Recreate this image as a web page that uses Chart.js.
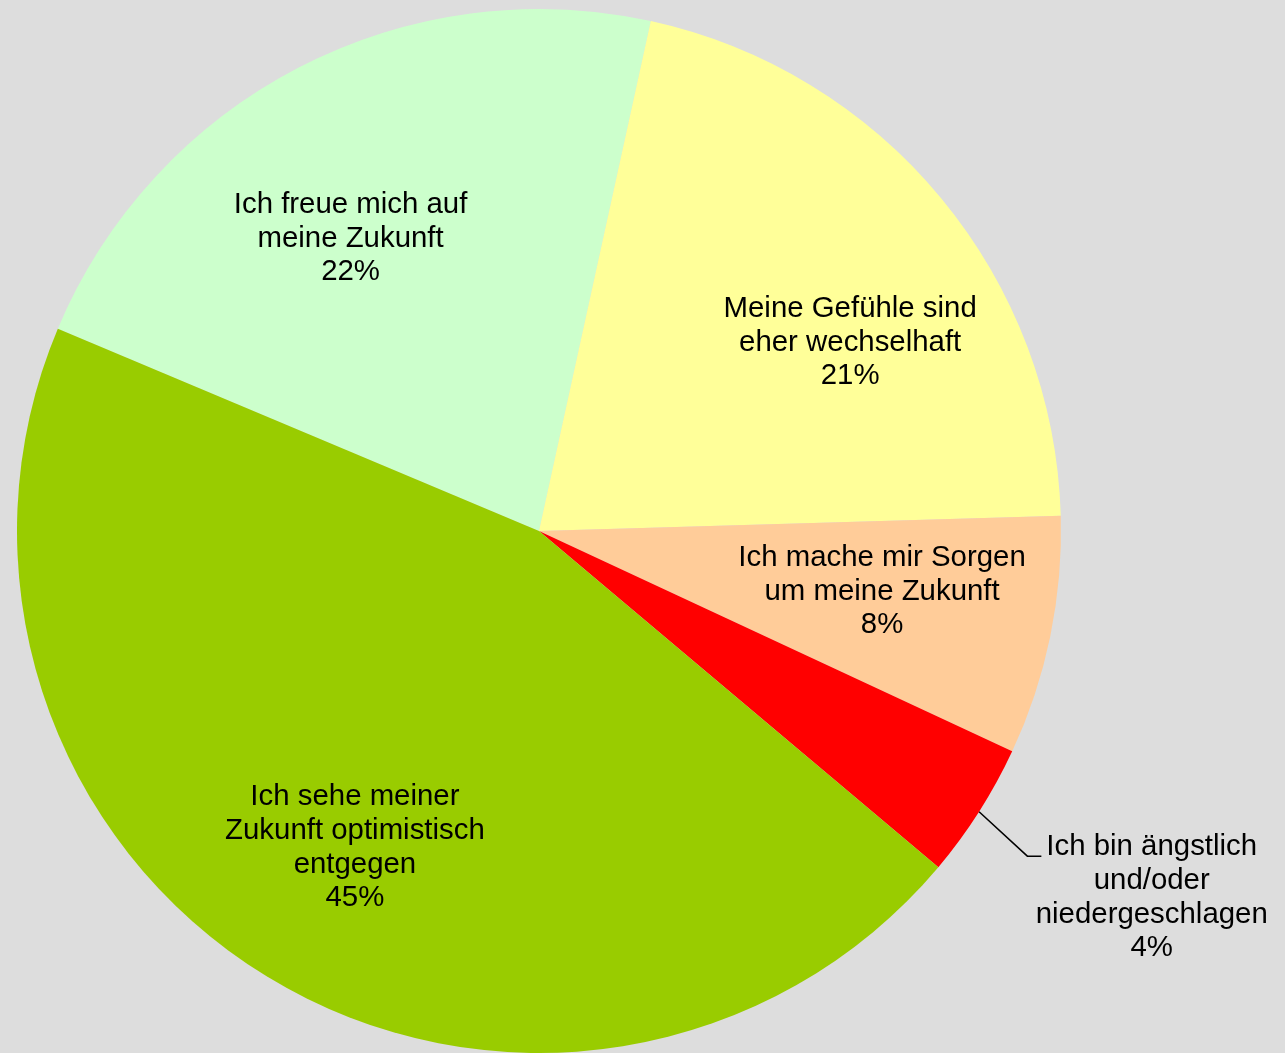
<!DOCTYPE html>
<html>
<head>
<meta charset="utf-8">
<script src="https://cdn.jsdelivr.net/npm/chart.js@4"></script>
<style>
  html, body { margin: 0; padding: 0; background: #dddddd; }
  #wrap { width: 1285px; height: 1053px; position: relative; }
</style>
</head>
<body>
<div id="wrap"><canvas id="pie"></canvas></div>
<script>
// slices, in drawing order starting at the upper left
const categories = [
  ['Ich freue mich auf', 'meine Zukunft'],
  ['Meine Gefühle sind', 'eher wechselhaft'],
  ['Ich mache mir Sorgen', 'um meine Zukunft'],
  ['Ich bin ängstlich', 'und/oder', 'niedergeschlagen'],
  ['Ich sehe meiner', 'Zukunft optimistisch', 'entgegen']
];
const sliceValues = [22.1, 21.1, 7.4, 4.2, 45.2];
const shownPercent = ['22%', '21%', '8%', '4%', '45%'];
const sliceColors = ['#ccffcc', '#ffff99', '#ffcc99', '#ff0000', '#99cc00'];

// label placement: [angle shift in degrees, distance as share of the radius]
const labelPlace = [[-5.3, 0.668], [8.3, 0.698], [-1.8, 0.667], [-1.7, 1.367], [-1.2, 0.70]];
const outsideLabel = 3;

const FONT = '29.4px "Liberation Sans", Arial, sans-serif';
const LINE_H = 33.7;

const labelPlugin = {
  id: 'sliceLabels',
  afterDatasetsDraw(chart) {
    const ctx = chart.ctx;
    const arcs = chart.getDatasetMeta(0).data;
    ctx.save();
    ctx.font = FONT;
    ctx.fillStyle = '#000';
    ctx.textAlign = 'center';
    ctx.textBaseline = 'middle';
    arcs.forEach((arc, i) => {
      const p = arc.getProps(['x', 'y', 'startAngle', 'endAngle', 'outerRadius'], true);
      const mid = (p.startAngle + p.endAngle) / 2;
      const a = mid + labelPlace[i][0] * Math.PI / 180;
      const r = p.outerRadius * labelPlace[i][1];
      const cx = p.x + Math.cos(a) * r;
      const cy = p.y + Math.sin(a) * r + 1;
      const lines = categories[i].concat([shownPercent[i]]);
      const top = cy - (lines.length - 1) * LINE_H / 2;
      lines.forEach((t, k) => ctx.fillText(t, cx, top + k * LINE_H));

      if (i === outsideLabel) {
        const w = ctx.measureText(lines[0]).width;
        const endX = cx - w / 2 - 5;
        const lineY = top + 9;
        const sx = p.x + Math.cos(mid) * p.outerRadius;
        const sy = p.y + Math.sin(mid) * p.outerRadius;
        ctx.beginPath();
        ctx.strokeStyle = '#000';
        ctx.lineWidth = 1.5;
        ctx.moveTo(sx, sy);
        ctx.lineTo(endX - 14, lineY);
        ctx.lineTo(endX, lineY);
        ctx.stroke();
      }
    });
    ctx.restore();
  }
};

new Chart(document.getElementById('pie'), {
  type: 'pie',
  data: {
    labels: categories.map(c => c.join(' ')),
    datasets: [{
      data: sliceValues,
      backgroundColor: sliceColors,
      borderWidth: 0
    }]
  },
  options: {
    responsive: true,
    maintainAspectRatio: false,
    animation: false,
    rotation: -67.19,
    layout: { padding: { left: 17, right: 224, top: 9, bottom: 0 } },
    plugins: {
      legend: { display: false },
      tooltip: { enabled: false }
    }
  },
  plugins: [labelPlugin]
});
</script>
</body>
</html>
